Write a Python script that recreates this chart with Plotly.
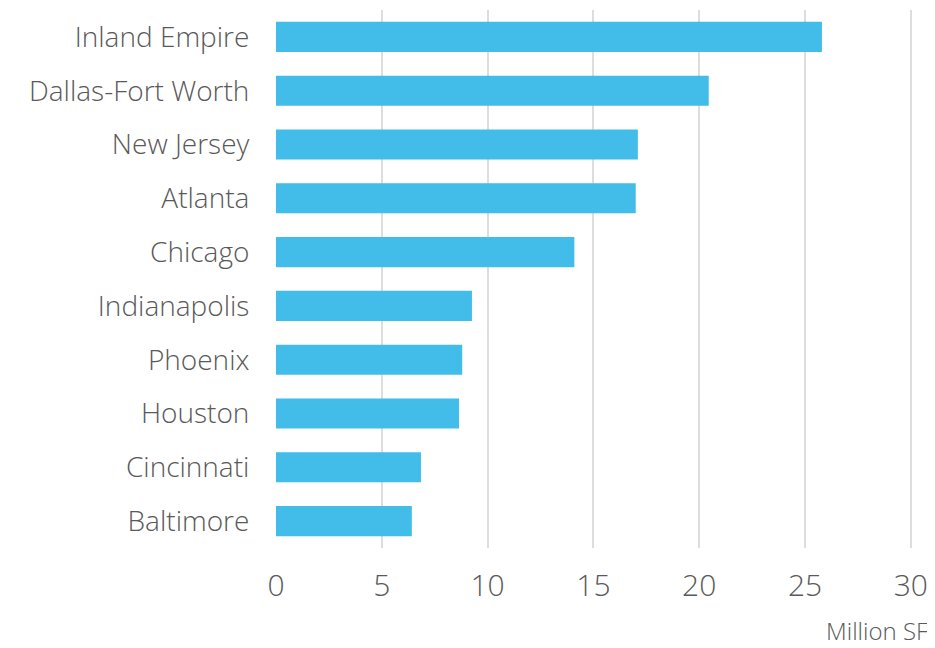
import plotly.graph_objects as go

markets = ["Inland Empire", "Dallas-Fort Worth", "New Jersey", "Atlanta", "Chicago",
           "Indianapolis", "Phoenix", "Houston", "Cincinnati", "Baltimore"]
values = [25.8, 20.45, 17.1, 17.0, 14.1, 9.26, 8.8, 8.65, 6.85, 6.42]
x_ticks = [0, 5, 10, 15, 20, 25, 30]
x_title = "Million SF"

FONT = "Open Sans"
TXT = "#595959"

fig = go.Figure(go.Bar(
    x=values, y=markets, orientation="h",
    marker=dict(color="#42BDE9", line=dict(width=0)),
    width=0.56,
))

fig.update_layout(
    width=927, height=640,
    margin=dict(l=268, r=21, t=2, b=100),
    paper_bgcolor="white", plot_bgcolor="white",
    showlegend=False,
    font=dict(family=FONT, color=TXT),
)
fig.update_xaxes(
    range=[0, 30.15], tickvals=x_ticks, ticktext=[str(t) for t in x_ticks],
    showgrid=True, gridcolor="#DDDDDD", gridwidth=2,
    zeroline=False, showline=False,
    ticks="outside", ticklen=11, tickcolor="rgba(0,0,0,0)",
    tickfont=dict(family=FONT, size=30, color=TXT, weight=300),
)
fig.update_yaxes(
    categoryorder="array", categoryarray=markets,
    range=[9.5, -0.5],
    showgrid=False, zeroline=False, showline=False,
    ticks="outside", ticklen=20, tickcolor="rgba(0,0,0,0)",
    tickfont=dict(family=FONT, size=28, color=TXT, weight=300),
)
fig.add_annotation(
    text=x_title, xref="paper", yref="paper", x=1.025, y=-0.154,
    xanchor="right", yanchor="middle", showarrow=False,
    font=dict(family=FONT, size=24, color=TXT, weight=300),
)

fig.write_html("out.html")
